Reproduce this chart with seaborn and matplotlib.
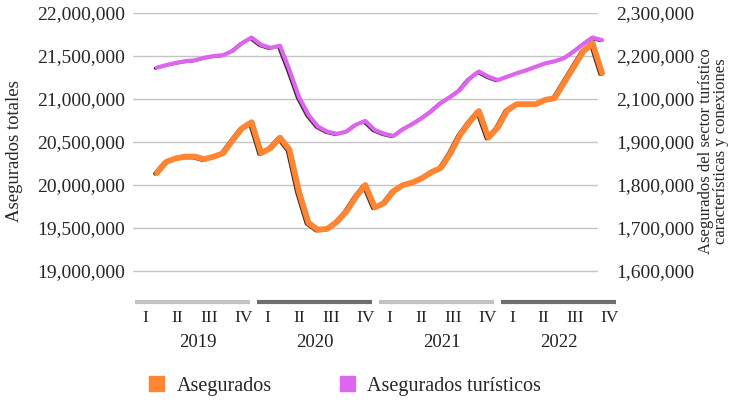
import numpy as np
import pandas as pd
import matplotlib
matplotlib.use("Agg")
import matplotlib.pyplot as plt
import matplotlib.patheffects as pe
from matplotlib.patches import Patch
import seaborn as sns

# monthly values, Jan 2019 .. Dec 2022
asegurados = [
    20.14, 20.27, 20.31, 20.33, 20.33, 20.30, 20.33, 20.37, 20.52, 20.66, 20.73, 20.37,
    20.43, 20.55, 20.41, 19.92, 19.56, 19.48, 19.49, 19.57, 19.69, 19.86, 20.00, 19.74,
    19.79, 19.93, 20.00, 20.03, 20.08, 20.15, 20.20, 20.37, 20.58, 20.73, 20.86, 20.55,
    20.67, 20.87, 20.94, 20.94, 20.94, 20.99, 21.01, 21.19, 21.37, 21.55, 21.65, 21.30,
]
turisticos = [
    2.173, 2.179, 2.184, 2.188, 2.190, 2.196, 2.200, 2.202, 2.212, 2.230, 2.243, 2.226,
    2.219, 2.224, 2.167, 2.105, 2.063, 2.036, 2.024, 2.019, 2.024, 2.040, 2.049, 2.028,
    2.019, 2.014, 2.030, 2.042, 2.056, 2.072, 2.091, 2.105, 2.121, 2.147, 2.164, 2.152,
    2.144, 2.152, 2.160, 2.167, 2.175, 2.183, 2.188, 2.195, 2.210, 2.227, 2.243, 2.237,
]
years = ["2019", "2020", "2021", "2022"]
quarters = ["I", "II", "III", "IV"]
left_ticks = [19e6, 19.5e6, 20e6, 20.5e6, 21e6, 21.5e6, 22e6]
right_labels = ["1,600,000", "1,700,000", "1,800,000", "1,900,000",
                "2,100,000", "2,200,000", "2,300,000"]

df = pd.DataFrame({
    "mes": np.arange(len(asegurados)),
    "asegurados": np.array(asegurados) * 1e6,
    "turisticos": np.array(turisticos) * 1e6,
})

sns.set_theme(style="white")
plt.rcParams["font.family"] = ["Liberation Serif", "DejaVu Serif"]

naranja = "#FF8533"
rosa = "#DE66EE"

fig = plt.figure(figsize=(7.4, 4.03), dpi=100)
ax = fig.add_axes([0.1797, 0.2804, 0.6284, 0.6873])
ax2 = ax.twinx()

sombra = lambda lw: [pe.Stroke(offset=(-1.3, -0.5), linewidth=lw * 0.7, foreground="#3a2a2a"),
                     pe.Normal()]

sns.lineplot(data=df, x="mes", y="asegurados", ax=ax, color=naranja, linewidth=4.2,
             clip_on=False, path_effects=sombra(4.2))
sns.lineplot(data=df, x="mes", y="turisticos", ax=ax2, color=rosa, linewidth=3.0,
             clip_on=False, path_effects=sombra(3.0))

ax.set_xlim(-2.53, 46.57)
ax.set_ylim(18.779e6, 22e6)
ax2.set_ylim(1.6558e6, 2.3e6)

ax.set_yticks(left_ticks, labels=[f"{v:,.0f}" for v in left_ticks])
ax2.set_yticks(np.arange(1.7e6, 2.31e6, 1e5), labels=right_labels)

ax.grid(axis="y", color="#c4c4c4", linewidth=1.0)
ax.set_axisbelow(True)
for a in (ax, ax2):
    for s in a.spines.values():
        s.set_visible(False)
    a.set_xticks([])
    a.set_xlabel("")
ax.tick_params(axis="y", length=0, labelsize=14, pad=6)
ax2.tick_params(axis="y", length=0, labelsize=14, pad=13)

ax.set_ylabel("Asegurados totales", fontsize=13.5, labelpad=10)
ax2.set_ylabel("Asegurados del sector turístico\ncaracterísticas y conexiones",
               fontsize=12, linespacing=0.85, labelpad=3)

# year bars and quarter labels under the plot
trans = ax.get_xaxis_transform()
q_frac = [0.09, 0.365, 0.645, 0.945]
bar_w = 12.1
for k, yr in enumerate(years):
    x0 = -2.32 + 12.9 * k
    col = "#c2c2c2" if k % 2 == 0 else "#6e6e6e"
    ax.plot([x0, x0 + bar_w], [-0.043, -0.043], transform=trans, color=col,
            linewidth=3, solid_capstyle="butt", clip_on=False)
    for f, q in zip(q_frac, quarters):
        ax.text(x0 + f * bar_w, -0.101, q, transform=trans, ha="center", va="center",
                fontsize=12.5, color="#222222")
    ax.text(x0 + bar_w / 2 + (0.6 if k % 2 == 0 else 0), -0.191, yr, transform=trans,
            ha="center", va="center", fontsize=13.5, color="#222222")

handles = [Patch(color=naranja, label="Asegurados"),
           Patch(color=rosa, label="Asegurados turísticos")]
fig.legend(handles=handles, loc="center left", bbox_to_anchor=(0.191, 0.042), ncol=2,
           frameon=False, fontsize=14.5, handlelength=0.75, handleheight=0.75,
           handletextpad=0.6, columnspacing=3.4, borderaxespad=0)

fig.savefig("out.png", dpi=100)
